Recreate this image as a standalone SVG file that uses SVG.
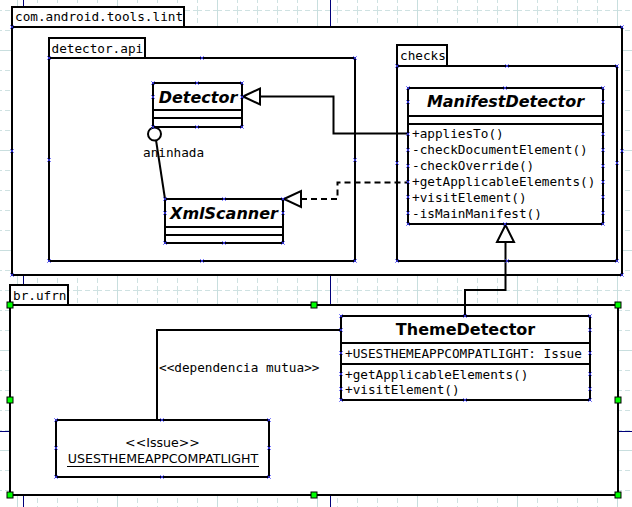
<svg xmlns="http://www.w3.org/2000/svg" xmlns:xlink="http://www.w3.org/1999/xlink" width="632" height="507" viewBox="0 0 632 507">
<style>
.box{fill:#fff;stroke:#000;stroke-width:2}
.ln{fill:none;stroke:#000;stroke-width:2}
.dash{fill:none;stroke:#000;stroke-width:2;stroke-dasharray:6 4}
.tri{fill:#fff;stroke:#000;stroke-width:2}
.mono{font-family:"DejaVu Sans Mono","Liberation Mono",monospace;font-size:12.7px;fill:#000}
.sans{font-family:"DejaVu Sans","Liberation Sans",sans-serif;font-size:12.6px;fill:#000}
.cname{font-family:"DejaVu Sans","Liberation Sans",sans-serif;font-size:16px;font-weight:bold;fill:#000}
.abs{font-style:italic}
.page{stroke:#00007a;stroke-width:1}
.handle{fill:#00ff00;stroke:#000;stroke-width:1}
.cp{fill:none;stroke:#3a3aff;stroke-width:0.8}
</style>
<defs>
<pattern id="minor" x="17" y="10" width="20" height="20" patternUnits="userSpaceOnUse">
<path d="M0 0.5H20M0.5 0V20" fill="none" stroke="#cfe2e2" stroke-width="1" stroke-dasharray="5 3"/>
</pattern>
<pattern id="major" x="17" y="50" width="100" height="100" patternUnits="userSpaceOnUse">
<path d="M0 0.5H100M0.5 0V100" fill="none" stroke="#c8dede" stroke-width="1"/>
</pattern>
<path id="x" d="M-1.8 -1.8L1.8 1.8M-1.8 1.8L1.8 -1.8"/>
</defs>
<rect width="632" height="507" fill="#fff"/>
<rect width="632" height="507" fill="url(#minor)"/>
<rect width="632" height="507" fill="url(#major)"/>
<g id="page-breaks">
<line class="page" x1="23.5" y1="0" x2="23.5" y2="507"/>
<line class="page" x1="330.5" y1="0" x2="330.5" y2="507"/>
<line class="page" x1="0" y1="431.5" x2="632" y2="431.5"/>
</g>

<g id="pkg-lint">
<rect class="box" x="12" y="7" width="172" height="20"/>
<rect class="box" x="12" y="27" width="610" height="248"/>
<text class="mono" x="15" y="20.5">com.android.tools.lint</text>
</g>
<g id="pkg-detector-api">
<rect class="box" x="49" y="38" width="96" height="20"/>
<rect class="box" x="49" y="58" width="306" height="203"/>
<text class="mono" x="51.5" y="52.5">detector.api</text>
</g>
<g id="pkg-checks">
<rect class="box" x="397" y="45" width="50" height="21"/>
<rect class="box" x="397" y="66" width="220" height="195"/>
<text class="mono" x="400" y="60">checks</text>
</g>
<g id="pkg-brufrn">
<rect class="box" x="10" y="285" width="58" height="20"/>
<rect class="box" x="10" y="305" width="608" height="190"/>
<text class="mono" x="13" y="299.5">br.ufrn</text>
</g>

<g id="cls-detector">
<rect class="box" x="153" y="83" width="89" height="44"/>
<line class="ln" x1="153" y1="110" x2="242" y2="110"/>
<line class="ln" x1="153" y1="118" x2="242" y2="118"/>
<text class="cname abs" x="198" y="103" text-anchor="middle">Detector</text>
</g>
<g id="cls-xmlscanner">
<rect class="box" x="165" y="199" width="118" height="44"/>
<line class="ln" x1="165" y1="227" x2="283" y2="227"/>
<line class="ln" x1="165" y1="235" x2="283" y2="235"/>
<text class="cname abs" x="224" y="219" text-anchor="middle">XmlScanner</text>
</g>
<g id="cls-manifestdetector">
<rect class="box" x="408" y="88" width="195" height="136"/>
<line class="ln" x1="408" y1="116" x2="603" y2="116"/>
<line class="ln" x1="408" y1="124" x2="603" y2="124"/>
<text class="cname abs" x="505.5" y="106.5" text-anchor="middle">ManifestDetector</text>
<text class="mono" x="412" y="138">+appliesTo()</text>
<text class="mono" x="412" y="154">-checkDocumentElement()</text>
<text class="mono" x="412" y="170">-checkOverride()</text>
<text class="mono" x="412" y="186">+getApplicableElements()</text>
<text class="mono" x="412" y="201.5">+visitElement()</text>
<text class="mono" x="412" y="217.5">-isMainManifest()</text>
</g>
<g id="cls-themedetector">
<rect class="box" x="341" y="316" width="249" height="84"/>
<line class="ln" x1="341" y1="343" x2="590" y2="343"/>
<line class="ln" x1="341" y1="364" x2="590" y2="364"/>
<text class="cname" x="465.5" y="335" text-anchor="middle">ThemeDetector</text>
<text class="mono" x="345" y="357.5">+USESTHEMEAPPCOMPATLIGHT: Issue</text>
<text class="mono" x="345" y="378.5">+getApplicableElements()</text>
<text class="mono" x="345" y="393.5">+visitElement()</text>
</g>
<g id="obj-issue">
<rect class="box" x="56" y="420" width="213" height="57"/>
<text class="sans" x="162.5" y="446.5" text-anchor="middle">&lt;&lt;Issue&gt;&gt;</text>
<text class="sans" x="163" y="462.5" text-anchor="middle">USESTHEMEAPPCOMPATLIGHT</text>
<line x1="67" y1="466.5" x2="259" y2="466.5" stroke="#000" stroke-width="1"/>
</g>

<g id="connectors">
<polyline class="ln" points="260,96.5 333.5,96.5 333.5,133.5 408,133.5"/>
<polygon class="tri" points="243,96.5 260,88.5 260,104.5"/>
<polyline class="dash" points="301,199 337.5,199 337.5,182.5 408,182.5"/>
<polygon class="tri" points="284,199 301,191 301,207"/>
<polyline class="ln" points="505.5,242 505.5,290 465,290 465,316"/>
<polygon class="tri" points="505.5,225 497,242 514,242"/>
<line class="ln" x1="156" y1="140" x2="165" y2="199"/>
<circle cx="154.5" cy="134" r="6.5" fill="#fff" stroke="#000" stroke-width="2"/>
<text class="mono" x="143" y="156.5" fill="#222">aninhada</text>
<polyline class="ln" points="341,330 157,330 157,420"/>
<text class="mono" x="159" y="371.5">&lt;&lt;dependencia mutua&gt;&gt;</text>
</g>

<g id="connection-points" class="cp">
<use href="#x" x="12" y="27"/><use href="#x" x="622" y="27"/><use href="#x" x="12" y="151"/><use href="#x" x="622" y="151"/><use href="#x" x="12" y="275"/><use href="#x" x="622" y="275"/>
<use href="#x" x="49" y="58"/><use href="#x" x="202" y="58"/><use href="#x" x="355" y="58"/><use href="#x" x="49" y="160"/><use href="#x" x="355" y="160"/><use href="#x" x="49" y="261"/><use href="#x" x="202" y="261"/><use href="#x" x="355" y="261"/>
<use href="#x" x="397" y="66"/><use href="#x" x="507" y="66"/><use href="#x" x="617" y="66"/><use href="#x" x="397" y="163"/><use href="#x" x="617" y="163"/><use href="#x" x="397" y="261"/><use href="#x" x="507" y="261"/><use href="#x" x="617" y="261"/>
<use href="#x" x="153" y="83"/><use href="#x" x="197" y="83"/><use href="#x" x="242" y="83"/><use href="#x" x="153" y="97"/><use href="#x" x="242" y="97"/><use href="#x" x="153" y="127"/><use href="#x" x="197" y="127"/><use href="#x" x="242" y="127"/>
<use href="#x" x="165" y="199"/><use href="#x" x="224" y="199"/><use href="#x" x="283" y="199"/><use href="#x" x="165" y="213"/><use href="#x" x="283" y="213"/><use href="#x" x="165" y="243"/><use href="#x" x="224" y="243"/><use href="#x" x="283" y="243"/>
<use href="#x" x="408" y="88"/><use href="#x" x="505" y="88"/><use href="#x" x="603" y="88"/><use href="#x" x="408" y="102"/><use href="#x" x="603" y="102"/>
<use href="#x" x="408" y="134"/><use href="#x" x="603" y="134"/><use href="#x" x="408" y="150"/><use href="#x" x="603" y="150"/><use href="#x" x="408" y="166"/><use href="#x" x="603" y="166"/><use href="#x" x="408" y="182"/><use href="#x" x="603" y="182"/><use href="#x" x="408" y="197"/><use href="#x" x="603" y="197"/><use href="#x" x="408" y="213"/><use href="#x" x="603" y="213"/>
<use href="#x" x="408" y="224"/><use href="#x" x="505" y="224"/><use href="#x" x="603" y="224"/>
<use href="#x" x="341" y="316"/><use href="#x" x="465" y="316"/><use href="#x" x="590" y="316"/><use href="#x" x="341" y="330"/><use href="#x" x="590" y="330"/><use href="#x" x="341" y="353"/><use href="#x" x="590" y="353"/><use href="#x" x="341" y="374"/><use href="#x" x="590" y="374"/><use href="#x" x="341" y="389"/><use href="#x" x="590" y="389"/><use href="#x" x="341" y="400"/><use href="#x" x="465" y="400"/><use href="#x" x="590" y="400"/>
<use href="#x" x="56" y="420"/><use href="#x" x="162" y="420"/><use href="#x" x="269" y="420"/><use href="#x" x="56" y="448"/><use href="#x" x="269" y="448"/><use href="#x" x="56" y="477"/><use href="#x" x="162" y="477"/><use href="#x" x="269" y="477"/>
</g>

<g id="handles">
<rect class="handle" x="7" y="302" width="6" height="6"/>
<rect class="handle" x="311" y="302" width="6" height="6"/>
<rect class="handle" x="615" y="302" width="6" height="6"/>
<rect class="handle" x="7" y="397" width="6" height="6"/>
<rect class="handle" x="615" y="397" width="6" height="6"/>
<rect class="handle" x="7" y="492" width="6" height="6"/>
<rect class="handle" x="311" y="492" width="6" height="6"/>
<rect class="handle" x="615" y="492" width="6" height="6"/>
</g>
</svg>
